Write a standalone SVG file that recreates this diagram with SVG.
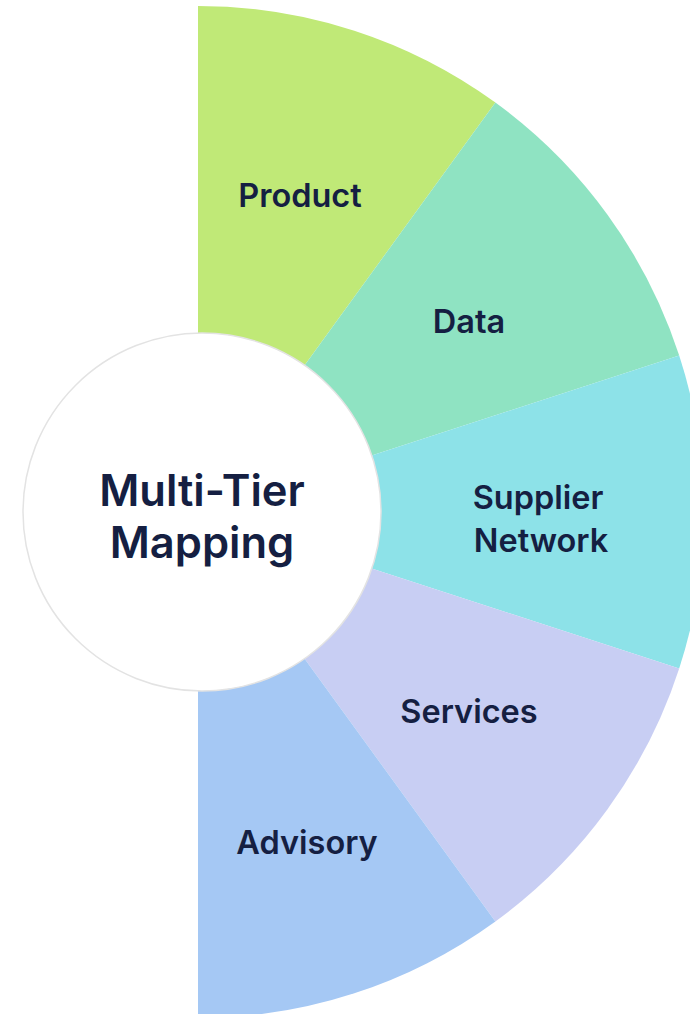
<svg xmlns="http://www.w3.org/2000/svg" width="690" height="1014" viewBox="0 0 690 1014">
<style>
.lbl{font-family:Inter,Roboto,"Liberation Sans",sans-serif;font-weight:600;fill:#151f42;text-anchor:middle}
.seg{font-size:32.5px}
.ctr{font-size:43.5px}
</style>
<rect width="690" height="1014" fill="#ffffff"/>
<g id="product"><path d="M198,512 L198,6 A506,506 0 0 1 495.4,102.6 Z" fill="#c0e977"/><text class="lbl seg" x="300" y="207">Product</text></g>
<g id="data"><path d="M198,512 L495.4,102.6 A506,506 0 0 1 679.2,355.6 Z" fill="#8fe3c2"/><text class="lbl seg" x="469" y="333">Data</text></g>
<g id="supplier-network"><path d="M198,512 L679.2,355.6 A506,506 0 0 1 679.2,668.4 Z" fill="#8de2e8"/><text class="lbl seg" x="538" y="509">Supplier</text><text class="lbl seg" x="541" y="552">Network</text></g>
<g id="services"><path d="M198,512 L679.2,668.4 A506,506 0 0 1 495.4,921.4 Z" fill="#c8cef3"/><text class="lbl seg" x="469" y="723">Services</text></g>
<g id="advisory"><path d="M198,512 L495.4,921.4 A506,506 0 0 1 198,1018 Z" fill="#a5c8f4"/><text class="lbl seg" x="307" y="854">Advisory</text></g>
<g id="center"><circle cx="202" cy="512" r="179" fill="#ffffff" stroke="#e3e3e3" stroke-width="1.5"/><text class="lbl ctr" x="202" y="506">Multi-Tier</text><text class="lbl ctr" x="202" y="558">Mapping</text></g>
<g id="connectors"/>
</svg>
